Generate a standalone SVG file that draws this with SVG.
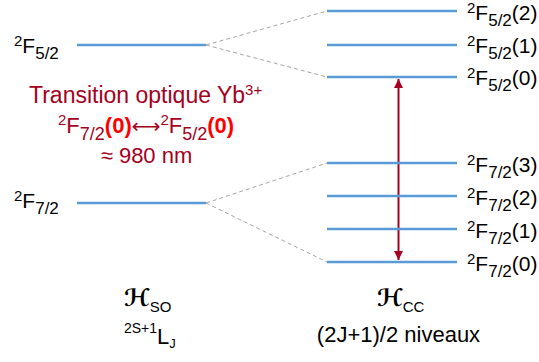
<svg xmlns="http://www.w3.org/2000/svg" width="539" height="362" viewBox="0 0 539 362">
<style>
.lvl{stroke:#5B9BD5;stroke-width:2.5;fill:none}
.dash{stroke:#A6A6A6;stroke-width:1;stroke-dasharray:4 3;fill:none}
.t{font-family:"Liberation Sans",Arial,sans-serif;fill:#000}
.lbl{font-size:21px}
.sm{font-size:15px}
.sb{font-size:17px}
.red{fill:#A50021}
.bred{fill:#FF0000;font-weight:bold}
.h{font-family:"DejaVu Serif","DejaVu Sans",serif;font-weight:bold;font-style:italic}
</style>
<defs>
<marker id="ah" viewBox="0 0 10 10" refX="10" refY="5" markerWidth="4.5" markerHeight="4.5" orient="auto-start-reverse" markerUnits="strokeWidth">
<path d="M0,0 L10,5 L0,10 z" fill="#A50021"/>
</marker>
</defs>
<g id="connectors">
<line class="dash" x1="206" y1="45" x2="327" y2="11"/>
<line class="dash" x1="206" y1="45" x2="327" y2="77"/>
<line class="dash" x1="206" y1="203" x2="327" y2="163"/>
<line class="dash" x1="206" y1="203" x2="327" y2="262"/>
<line x1="398.5" y1="79" x2="398.5" y2="260" stroke="#A50021" stroke-width="2" marker-start="url(#ah)" marker-end="url(#ah)"/>
</g>
<g id="so-F52">
<line class="lvl" x1="77" y1="45" x2="206" y2="45"/>
<text class="t lbl" x="14" y="53"><tspan class="sm" dy="-7">2</tspan><tspan dy="7">F</tspan><tspan class="sb" dy="6">5/2</tspan></text>
</g>
<g id="so-F72">
<line class="lvl" x1="77" y1="203" x2="206" y2="203"/>
<text class="t lbl" x="14" y="208"><tspan class="sm" dy="-7">2</tspan><tspan dy="7">F</tspan><tspan class="sb" dy="6">7/2</tspan></text>
</g>
<g id="cc-F52-2">
<line class="lvl" x1="327" y1="11" x2="457" y2="11"/>
<text class="t lbl" x="467" y="19.5"><tspan class="sm" dy="-7">2</tspan><tspan dy="7">F</tspan><tspan class="sb" dy="6">5/2</tspan><tspan dy="-6">(2)</tspan></text>
</g>
<g id="cc-F52-1">
<line class="lvl" x1="327" y1="45" x2="457" y2="45"/>
<text class="t lbl" x="467" y="53"><tspan class="sm" dy="-7">2</tspan><tspan dy="7">F</tspan><tspan class="sb" dy="6">5/2</tspan><tspan dy="-6">(1)</tspan></text>
</g>
<g id="cc-F52-0">
<line class="lvl" x1="327" y1="77" x2="457" y2="77"/>
<text class="t lbl" x="467" y="85"><tspan class="sm" dy="-7">2</tspan><tspan dy="7">F</tspan><tspan class="sb" dy="6">5/2</tspan><tspan dy="-6">(0)</tspan></text>
</g>
<g id="cc-F72-3">
<line class="lvl" x1="327" y1="163" x2="457" y2="163"/>
<text class="t lbl" x="467" y="171.5"><tspan class="sm" dy="-7">2</tspan><tspan dy="7">F</tspan><tspan class="sb" dy="6">7/2</tspan><tspan dy="-6">(3)</tspan></text>
</g>
<g id="cc-F72-2">
<line class="lvl" x1="327" y1="196" x2="457" y2="196"/>
<text class="t lbl" x="467" y="205"><tspan class="sm" dy="-7">2</tspan><tspan dy="7">F</tspan><tspan class="sb" dy="6">7/2</tspan><tspan dy="-6">(2)</tspan></text>
</g>
<g id="cc-F72-1">
<line class="lvl" x1="327" y1="229" x2="457" y2="229"/>
<text class="t lbl" x="467" y="238"><tspan class="sm" dy="-7">2</tspan><tspan dy="7">F</tspan><tspan class="sb" dy="6">7/2</tspan><tspan dy="-6">(1)</tspan></text>
</g>
<g id="cc-F72-0">
<line class="lvl" x1="327" y1="262" x2="457" y2="262"/>
<text class="t lbl" x="467" y="270.5"><tspan class="sm" dy="-7">2</tspan><tspan dy="7">F</tspan><tspan class="sb" dy="6">7/2</tspan><tspan dy="-6">(0)</tspan></text>
</g>
<g id="transition-label">
<text class="t red" x="29" y="103" font-size="23">Transition optique Yb<tspan font-size="15" dy="-8">3+</tspan></text>
<text class="t red" x="58" y="133" font-size="22"><tspan font-size="15" dy="-8">2</tspan><tspan dy="8">F</tspan><tspan font-size="18" dy="7">7/2</tspan><tspan class="bred" dy="-7">(0)</tspan><tspan font-family="DejaVu Sans,sans-serif" font-size="20">⟷</tspan><tspan font-size="15" dy="-8">2</tspan><tspan dy="8">F</tspan><tspan font-size="18" dy="7">5/2</tspan><tspan class="bred" dy="-7">(0)</tspan></text>
<text class="t red" x="146.5" y="163" font-size="22" text-anchor="middle">≈ 980 nm</text>
</g>
<g id="hso-label">
<text class="t" x="124" y="306" font-size="24"><tspan class="h">ℋ</tspan><tspan font-size="15" dy="6">SO</tspan></text>
<text class="t" x="124" y="344" font-size="22"><tspan font-size="14" dy="-11">2S+1</tspan><tspan dy="11">L</tspan><tspan font-size="13" dy="4">J</tspan></text>
</g>
<g id="hcc-label">
<text class="t" x="377" y="306" font-size="24"><tspan class="h">ℋ</tspan><tspan font-size="15" dy="6">CC</tspan></text>
<text class="t" x="398.5" y="342" font-size="22" text-anchor="middle">(2J+1)/2 niveaux</text>
</g>
</svg>
